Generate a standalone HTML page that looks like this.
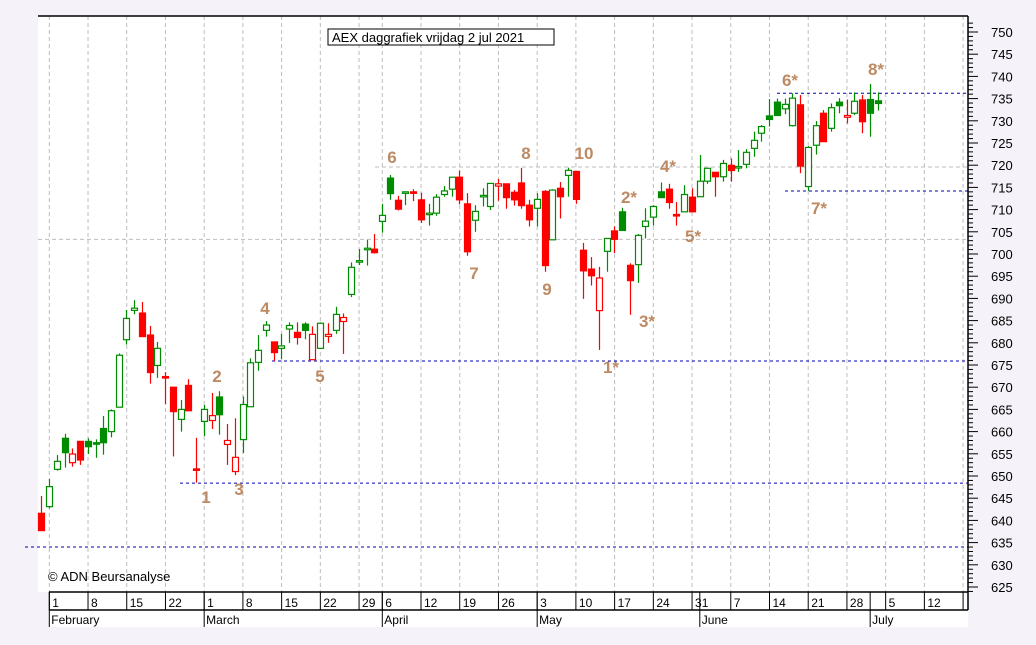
<!DOCTYPE html>
<html><head><meta charset="utf-8"><title>AEX daggrafiek</title>
<style>
html,body{margin:0;padding:0;background:#f5f3f9;}
svg{display:block;font-family:"Liberation Sans",sans-serif;}
</style></head>
<body>
<svg id="chart" width="1036" height="645" viewBox="0 0 1036 645" xmlns="http://www.w3.org/2000/svg">
<rect x="0" y="0" width="1036" height="645" fill="#f5f3f9"/>
<rect x="38" y="16" width="930" height="576" fill="#ffffff"/>
<rect x="49" y="592" width="919" height="35" fill="#ffffff"/>
<g id="grid"></g>
<g id="levels"></g>
<g id="candles"></g>
<g id="axes"></g>
<g id="annotations"></g>
<g>
<rect x="328" y="29" width="226" height="16" fill="#fff" stroke="#000" stroke-width="1"/>
<text x="332" y="42" font-size="13" fill="#000">AEX daggrafiek vrijdag 2 jul 2021</text>
</g>
<text x="48" y="581" font-size="13" fill="#000">© ADN Beursanalyse</text>
</svg>
<script>
const opens=[641.6,643.1,651.5,658.5,653.0,657.8,657.8,657.5,660.7,660.0,665.5,680.7,687.3,686.7,681.75,674.9,672.4,670.0,662.75,670.4,651.6,662.3,662.5,667.8,657.1,651.0,658.2,665.6,675.6,682.8,680.2,678.75,683.1,682.35,684.2,676.2,678.75,681.45,682.8,684.8,690.9,698.3,701.05,701.1,707.35,717.1,712.1,713.9,714.0,712.2,708.9,709.2,713.4,714.6,717.3,711.3,707.6,712.9,710.7,715.3,715.8,713.9,716.0,711.0,710.3,714.1,703.2,714.8,717.7,718.6,700.85,696.6,687.25,700.6,705.2,709.5,697.45,697.6,706.2,708.3,714.0,714.6,708.9,709.5,712.8,712.9,716.4,718.4,717.4,719.97,719.5,720.2,723.8,727.2,731.1,734.2,732.7,728.9,733.6,715.2,724.5,731.7,728.3,734.2,730.8,731.7,734.7,734.8,734.5];
const closes=[637.7,647.6,653.3,655.25,654.95,653.6,656.6,657.2,657.5,664.7,677.2,685.5,687.8,681.4,673.3,678.75,672.2,664.5,665.0,664.7,651.5,665.0,663.6,663.8,658.0,654.2,666.1,675.5,678.3,684.0,677.8,679.3,683.9,681.2,682.8,681.9,684.4,681.9,686.4,685.7,697.0,698.5,701.3,700.3,708.7,713.6,710.1,714.0,713.9,707.7,709.2,712.8,714.2,717.3,712.2,700.5,709.6,713.2,715.9,715.8,712.7,712.2,710.9,707.7,712.3,697.4,714.4,712.9,718.85,712.3,696.2,695.1,694.6,703.5,703.3,705.3,694.0,704.2,707.4,710.7,712.7,711.6,708.6,713.4,709.5,716.4,719.3,717.4,720.4,718.8,719.7,722.9,725.6,728.7,730.3,731.2,733.7,735.1,719.8,724.0,728.9,725.3,732.95,733.4,731.2,734.4,729.8,731.7,733.9];
const highs=[645.5,649.3,654.7,659.5,656.2,657.8,658.5,658.25,663.5,665.0,677.6,687.4,689.6,689.2,683.8,680.2,673.4,670.0,667.1,671.8,658.6,666.0,668.7,669.1,661.7,663.0,667.9,676.5,681.75,684.9,680.2,682.0,684.6,684.6,684.6,683.7,684.6,684.4,688.1,686.6,698.1,701.1,703.2,704.5,711.3,717.8,713.1,714.1,714.6,713.8,711.3,713.5,715.3,717.3,718.8,713.7,711.0,714.8,715.9,716.9,715.8,714.4,719.4,712.2,713.7,714.4,714.6,716.2,719.45,718.6,702.5,699.3,697.1,703.5,706.2,710.4,697.9,704.5,710.3,711.0,716.1,715.8,711.7,715.5,714.8,722.3,719.3,718.4,721.2,721.5,723.4,723.6,727.55,729.05,734.9,735.0,735.0,736.2,735.8,724.3,729.95,732.4,733.9,735.1,734.8,736.4,735.8,738.3,736.4];
const lows=[637.7,642.7,651.2,651.9,652.1,652.5,654.95,654.1,654.8,658.7,665.5,679.6,686.4,681.4,670.8,672.1,666.2,654.4,660.0,664.7,648.5,659.0,660.6,659.3,652.5,650.2,655.2,665.6,673.7,681.4,675.9,676.35,680.0,679.6,680.8,676.2,678.6,680.0,682.0,677.5,690.3,697.5,697.4,700.1,704.8,712.2,709.8,711.0,711.9,707.0,706.4,708.6,712.9,712.9,711.2,699.6,705.0,710.7,709.9,712.0,710.2,710.9,710.2,706.2,706.2,696.0,703.2,708.0,712.9,711.3,689.9,692.9,678.4,696.0,700.2,705.3,686.3,693.5,703.5,706.4,712.7,710.2,706.4,709.5,709.5,712.9,715.8,712.9,716.3,716.3,718.5,719.3,721.9,725.3,728.7,731.2,731.5,728.7,718.2,714.2,722.4,725.3,727.55,731.7,729.4,731.3,727.2,726.4,732.3];
const dayLabels=["1","8","15","22","1","8","15","22","29","6","12","19","26","3","10","17","24","31","7","14","21","28","5","12",""];
const dayIdx=[0,5,10,15,20,25,30,35,40,43,48,53,58,63,68,73,78,83,88,93,98,103,108,113,118];
const monthLabels=["February","March","April","May","June","July"];
const monthIdx=[0,20,43,63,84,106];
const priceTicks=[750,745,740,735,730,725,720,715,710,705,700,695,690,685,680,675,670,665,660,655,650,645,640,635,630,625];
const hLevels=[736.2,714.2,675.9,648.4,634.0];
const hLevelStart=[777,785,272,180,25];
const grayLevels=[719.6,703.3];
const grayStart=[375,0];
const waveLabels=["1","2","3","4","5","6","7","8","9","10","1*","2*","3*","4*","5*","6*","7*","8*"];
const wavePrice=[645.3,672.5,647.1,687.8,672.5,721.8,695.7,722.7,692.1,722.7,674.5,712.8,684.9,719.8,704.1,739.2,710.4,741.7];
const waveX=[206,217,239,265,320,392,474,526,547,584,611,629,647,668,693,790,819,876];

const NS="http://www.w3.org/2000/svg";
const PL=38,PR=968,PT=16,PB=592;
function y(v){return 32+(750-v)*4.44;}
function cx(i){return 41.3+i*7.744;}
function tx(i){return 49.3+i*7.744;}
function mk(tag,attrs,parent){const e=document.createElementNS(NS,tag);for(const k in attrs)e.setAttribute(k,attrs[k]);parent.appendChild(e);return e;}

const grid=document.getElementById('grid');
dayIdx.forEach((d,k)=>{const x=tx(d); if(x>PR)return;
  const l=mk('line',{x1:x,x2:x,y1:PT,y2:PB,stroke:'#bdbdbd','stroke-dasharray':'4,3','stroke-width':1},grid);
  
  
});
grayLevels.forEach((v,k)=>{
  const l=mk('line',{x1:Math.max(grayStart[k],PL),x2:PR,y1:y(v),y2:y(v),stroke:'#bdbdbd','stroke-dasharray':'4,3'},grid);
  
  
});
const lev=document.getElementById('levels');
hLevels.forEach((v,k)=>{
  const l=mk('line',{x1:hLevelStart[k],x2:PR,y1:y(v),y2:y(v),stroke:'#0000b0','stroke-dasharray':'3,3','stroke-width':1},lev);
  
  
});

const cg=document.getElementById('candles');
for(let i=0;i<opens.length;i++){
  const o=opens[i],c=closes[i],h=highs[i],lo=lows[i];
  const up=i===0?false:c>=closes[i-1];
  const col=up?'#008c00':'#ff0000';
  const g=mk('g',{},cg);
  
  
  const x=Math.round(cx(i))+0.5;
  mk('line',{x1:x,x2:x,y1:y(h),y2:y(lo),stroke:col,'stroke-width':1.2},g);
  const top=y(Math.max(o,c)),bot=y(Math.min(o,c));
  const filled=c<o;
  const hgt=Math.max(bot-top,1.5);
  mk('rect',{x:x-3,y:top,width:6,height:hgt,fill:filled?col:'#ffffff',stroke:col,'stroke-width':1.2},g);
}

const ax=document.getElementById('axes');
mk('line',{x1:PL,x2:PR,y1:PT,y2:PT,stroke:'#000','stroke-width':1.5},ax);
mk('line',{x1:PR,x2:PR,y1:PT,y2:PB+18,stroke:'#000','stroke-width':1.5},ax);
mk('line',{x1:49,x2:PR,y1:PB,y2:PB,stroke:'#000','stroke-width':1.5},ax);
mk('line',{x1:49,x2:PR,y1:610,y2:610,stroke:'#000','stroke-width':1.5},ax);
for(let v=624;v<=752;v++){
  const major=v%5===0;
  mk('line',{x1:PR,x2:PR+(major?10:5),y1:y(v),y2:y(v),stroke:'#000','stroke-width':1},ax);
}
priceTicks.forEach(v=>{
  const t=mk('text',{x:991,y:y(v)+5,'font-size':13,fill:'#000'},ax);
  
  
  t.textContent=String(v);
});
dayIdx.forEach((d,k)=>{const x=tx(d); if(x>PR+1)return;
  mk('line',{x1:x,x2:x,y1:PB,y2:610,stroke:'#000','stroke-width':1},ax);
  const t=mk('text',{x:x+3,y:607,'font-size':12,fill:'#000'},ax);
  
  
  t.textContent=dayLabels[k];
});
monthIdx.forEach((d,k)=>{const x=tx(d);
  mk('line',{x1:x,x2:x,y1:PB,y2:627,stroke:'#000','stroke-width':1},ax);
  const t=mk('text',{x:x+2,y:624,'font-size':12,fill:'#000'},ax);
  
  
  t.textContent=monthLabels[k];
});

const an=document.getElementById('annotations');
waveLabels.forEach((s,k)=>{
  const t=mk('text',{x:waveX[k],y:y(wavePrice[k])+6,'font-size':17,'font-weight':'bold',fill:'#bd8a63','text-anchor':'middle'},an);
  
  
  t.textContent=s;
});
</script>
</body></html>
